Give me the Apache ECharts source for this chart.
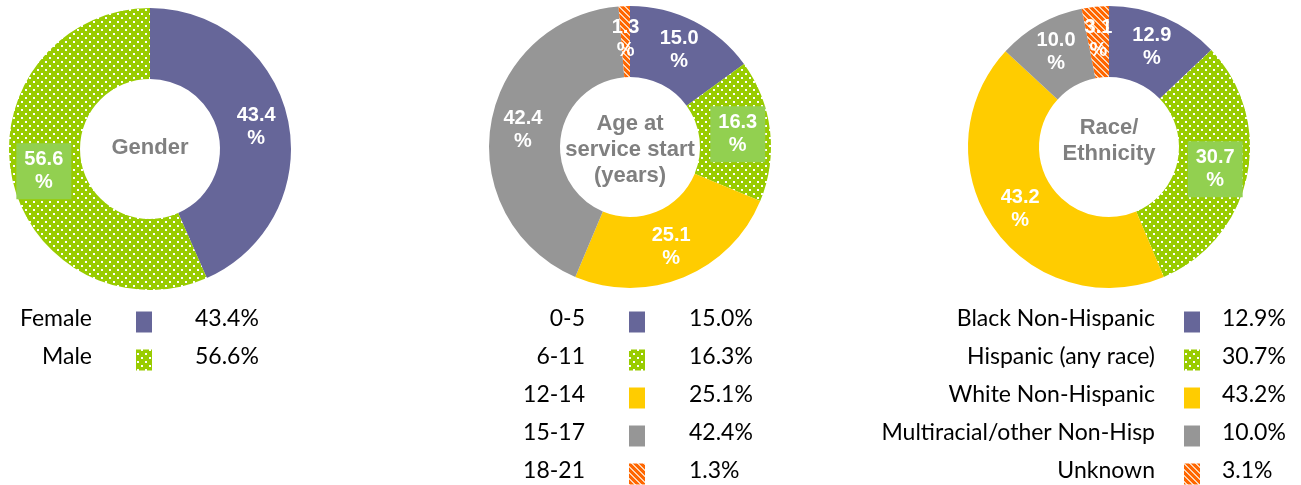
<!DOCTYPE html>
<html>
<head>
<meta charset="utf-8">
<script src="https://cdn.jsdelivr.net/npm/echarts@6/dist/echarts.min.js"></script>
<style>
  html, body { margin: 0; padding: 0; background: #ffffff; }
  #chart { width: 1301px; height: 485px; }
</style>
</head>
<body>
<div id="chart"></div>
<script>
// Service population breakdowns
const genderCats = ['Female', 'Male'];
const genderVals = [43.4, 56.6];

const ageCats = ['0-5', '6-11', '12-14', '15-17', '18-21'];
const ageVals = [15.0, 16.3, 25.1, 42.4, 1.3];

const raceCats = ['Black Non-Hispanic', 'Hispanic (any race)', 'White Non-Hispanic', 'Multiracial/other Non-Hisp', 'Unknown'];
const raceVals = [12.9, 30.7, 43.2, 10.0, 3.1];

const centerTitles = ['Gender', 'Age at\nservice start\n(years)', 'Race/\nEthnicity'];

// Fill patterns
function dotPattern() {
  const c = document.createElement('canvas');
  c.width = 8; c.height = 8;
  const g = c.getContext('2d');
  g.fillStyle = '#99CC00';
  g.fillRect(0, 0, 8, 8);
  g.fillStyle = '#ffffff';
  g.fillRect(1, 1, 2, 2);
  g.fillRect(5, 5, 2, 2);
  return { image: c, repeat: 'repeat' };
}
function stripePattern() {
  const c = document.createElement('canvas');
  c.width = 6; c.height = 6;
  const g = c.getContext('2d');
  g.fillStyle = '#FF6600';
  g.fillRect(0, 0, 6, 6);
  g.fillStyle = '#FCD5B4';
  for (let y = 0; y < 6; y++) {
    for (let x = 0; x < 6; x++) {
      if (((x - y) % 6 + 6) % 6 < 2) g.fillRect(x, y, 1, 1);
    }
  }
  return { image: c, repeat: 'repeat' };
}

const fills = ['#666699', dotPattern(), '#FFCC00', '#969696', stripePattern()];
const labelBoxes = [null, '#92D050', null, null, null];

const chart = echarts.init(document.getElementById('chart'), null, { renderer: 'canvas' });

const donuts = [
  { cats: genderCats, vals: genderVals, center: [150, 149], titleDy: -1.5, nameRight: 92, boxX: 136, valueX: 195 },
  { cats: ageCats, vals: ageVals, center: [630, 147], titleDy: 3, nameRight: 585, boxX: 629, valueX: 689 },
  { cats: raceCats, vals: raceVals, center: [1109, 147], titleDy: -6, nameRight: 1155, boxX: 1184, valueX: 1222 }
];
const rowY = [322, 360, 398, 436, 474];

const series = donuts.map(d => ({
  type: 'pie',
  center: d.center,
  radius: [70, 141],
  startAngle: 90,
  clockwise: true,
  silent: true,
  avoidLabelOverlap: false,
  labelLine: { show: false },
  data: d.cats.map((name, i) => ({
    name: name,
    value: d.vals[i],
    itemStyle: { color: fills[i], borderWidth: 0 },
    label: labelBoxes[i] ? { backgroundColor: labelBoxes[i], padding: [5, 8] } : {}
  })),
  label: {
    show: true,
    position: 'inside',
    formatter: p => p.value.toFixed(1) + '\n%',
    color: '#ffffff',
    fontFamily: 'Liberation Sans, Arial, sans-serif',
    fontWeight: 'bold',
    fontSize: 20,
    lineHeight: 23,
    align: 'center'
  }
}));

const graphics = [];
donuts.forEach((d, k) => {
  graphics.push({
    type: 'text',
    x: d.center[0],
    y: d.center[1] + d.titleDy,
    style: {
      text: centerTitles[k],
      align: 'center',
      verticalAlign: 'middle',
      fill: '#808080',
      font: 'bold 22px "Liberation Sans", Arial, sans-serif',
      lineHeight: 26
    }
  });
  d.cats.forEach((name, i) => {
    const y = rowY[i];
    graphics.push({
      type: 'text', x: d.nameRight, y: y - 3,
      style: { text: name, align: 'right', verticalAlign: 'middle', fill: '#000000', font: '23px Lato, sans-serif' }
    });
    graphics.push({
      type: 'rect', shape: { x: d.boxX, y: y - 10.5, width: 16, height: 21 },
      style: { fill: fills[i] }
    });
    graphics.push({
      type: 'text', x: d.valueX, y: y - 3,
      style: { text: d.vals[i].toFixed(1) + '%', align: 'left', verticalAlign: 'middle', fill: '#000000', font: '23px Lato, sans-serif' }
    });
  });
});

chart.setOption({
  animation: false,
  backgroundColor: '#ffffff',
  series: series,
  graphic: graphics
});
</script>
</body>
</html>
